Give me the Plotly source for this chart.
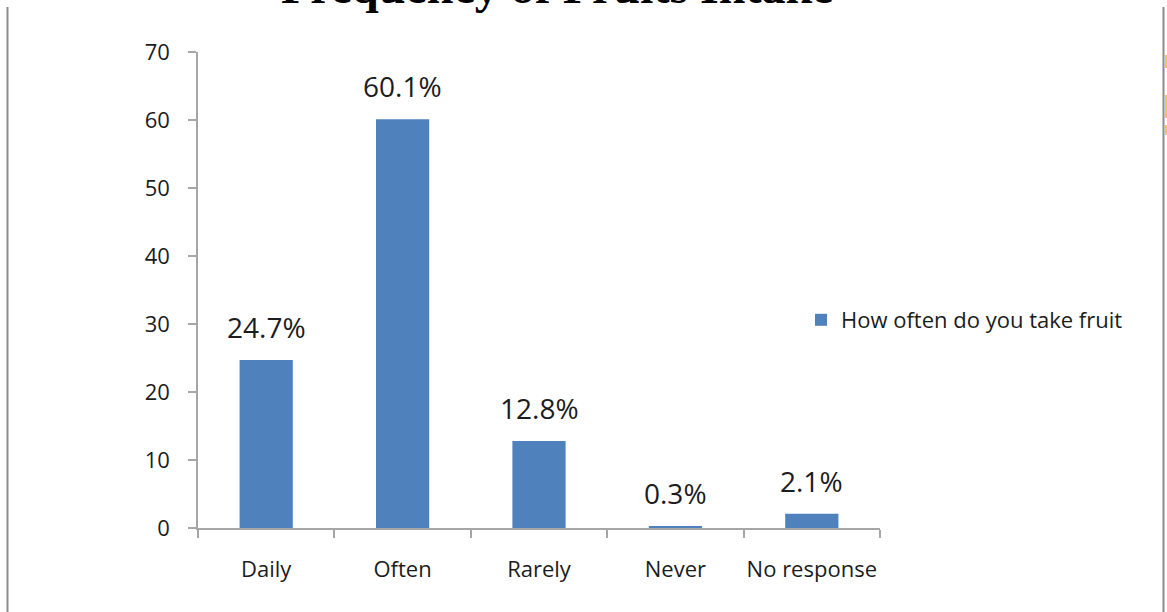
import plotly.graph_objects as go

# Survey responses: how often respondents eat fruit (percent)
categories = ["Daily", "Often", "Rarely", "Never", "No response"]
percentages = [24.7, 60.1, 12.8, 0.3, 2.1]
y_ticks = [0, 10, 20, 30, 40, 50, 60, 70]

series_name = "How often do you take fruit"
bar_color = "#4f81bd"
axis_color = "#a6a6a6"
text_font = "'Open Sans', 'Noto Sans', sans-serif"
text_color = "#1c1c1c"

W, H = 1167, 612
L, R, T, B = 198, 287, 52, 84
plot_w = W - L - R
plot_h = H - T - B


def px_x(p):
    return (p - L) / plot_w


def px_y(p):
    return (H - B - p) / plot_h


fig = go.Figure()
fig.add_trace(go.Bar(
    x=categories,
    y=percentages,
    name=series_name,
    marker=dict(color=bar_color, line=dict(width=0)),
    width=0.39,
    showlegend=True,
))

# Percentage labels above each bar
for cat, val in zip(categories, percentages):
    fig.add_annotation(
        x=cat, y=val, xref="x", yref="y",
        text=f"{val}%", showarrow=False,
        yanchor="bottom", yshift=12,
        font=dict(family=text_font, size=28, color=text_color),
    )

# Title, partly clipped at the top of the page
fig.add_annotation(
    x=px_x(557), y=px_y(15), xref="paper", yref="paper",
    text="<b>Frequency of Fruits Intake</b>", showarrow=False,
    xanchor="center", yanchor="bottom",
    font=dict(family="'Liberation Serif', 'Times New Roman', serif", size=48, color="#000000"),
)

# Frame lines at the page edges
shapes = [
    dict(type="line", xref="paper", yref="paper",
         x0=px_x(7.5), x1=px_x(7.5), y0=px_y(7), y1=px_y(615),
         line=dict(color="#8c8c8c", width=2)),
    dict(type="line", xref="paper", yref="paper",
         x0=px_x(1163.5), x1=px_x(1163.5), y0=px_y(7), y1=px_y(615),
         line=dict(color="#8c8c8c", width=2)),
]
for y0, y1 in [(55, 68), (95, 118), (125, 135)]:
    shapes.append(dict(type="line", xref="paper", yref="paper",
                       x0=px_x(1166), x1=px_x(1166), y0=px_y(y0), y1=px_y(y1),
                       line=dict(color="#f5c060", width=2)))

fig.update_layout(
    width=W, height=H,
    margin=dict(l=L, r=R, t=T, b=B, pad=0, autoexpand=False),
    paper_bgcolor="white", plot_bgcolor="white",
    shapes=shapes,
    bargap=0.61,
    font=dict(family=text_font, size=22, color=text_color),
    legend=dict(
        x=px_x(801), y=px_y(320), xref="paper", yref="paper",
        xanchor="left", yanchor="middle",
        font=dict(family=text_font, size=22, color=text_color),
        itemwidth=30, bgcolor="rgba(0,0,0,0)",
    ),
    xaxis=dict(
        showline=True, linecolor=axis_color, linewidth=1.5,
        ticks="outside", tickson="boundaries", ticklen=8,
        tickcolor=axis_color, tickwidth=1.5,
        showgrid=False, zeroline=False, tickangle=0, automargin=False,
        ticklabelstandoff=21,
        tickfont=dict(family=text_font, size=22, color=text_color),
    ),
    yaxis=dict(
        range=[0, 70], tickvals=y_ticks,
        showline=True, linecolor=axis_color, linewidth=1.5,
        ticks="outside", ticklen=8, tickcolor=axis_color, tickwidth=1.5,
        showgrid=False, zeroline=False, automargin=False,
        ticklabelstandoff=14,
        tickfont=dict(family=text_font, size=22, color=text_color),
    ),
)

fig.write_html("out.html")
